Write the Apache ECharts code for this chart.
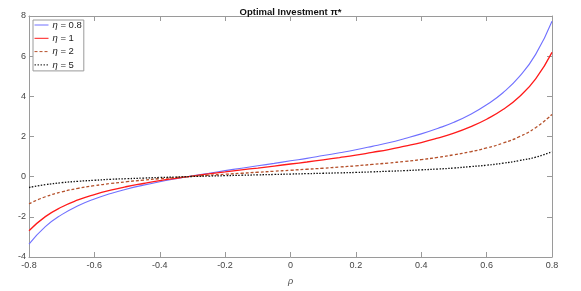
<!DOCTYPE html>
<html><head><meta charset="utf-8">
<script src="https://cdn.jsdelivr.net/npm/echarts@6/dist/echarts.min.js"></script>
<style>html,body{margin:0;padding:0;background:#fff}#c{width:581px;height:291px}</style>
</head><body><div id="c"></div>
<script>
const rho = [-0.8,-0.75,-0.7,-0.65,-0.6,-0.55,-0.5,-0.45,-0.4,-0.35,-0.3,-0.25,-0.2,-0.15,-0.1,-0.05,0,0.05,0.1,0.15,0.2,0.25,0.3,0.35,0.4,0.45,0.5,0.55,0.6,0.65,0.7,0.75,0.8];
const eta08 = [-3.36,-2.49,-1.89,-1.45,-1.11,-0.84,-0.61,-0.42,-0.25,-0.10,0.04,0.17,0.30,0.42,0.54,0.66,0.79,0.91,1.05,1.19,1.34,1.51,1.69,1.90,2.13,2.40,2.71,3.10,3.58,4.18,4.98,6.09,7.74];
const eta1 = [-2.69,-1.99,-1.51,-1.16,-0.89,-0.67,-0.49,-0.34,-0.20,-0.08,0.03,0.14,0.24,0.34,0.43,0.53,0.63,0.73,0.84,0.95,1.07,1.21,1.35,1.52,1.70,1.92,2.17,2.48,2.86,3.34,3.98,4.87,6.19];
const eta2 = [-1.35,-1.00,-0.76,-0.58,-0.45,-0.34,-0.25,-0.17,-0.10,-0.04,0.02,0.07,0.12,0.17,0.22,0.27,0.32,0.37,0.42,0.48,0.54,0.61,0.68,0.76,0.85,0.96,1.09,1.24,1.43,1.67,1.99,2.44,3.10];
const eta5 = [-0.54,-0.40,-0.30,-0.23,-0.18,-0.13,-0.10,-0.07,-0.04,-0.02,0.01,0.03,0.05,0.07,0.09,0.11,0.13,0.15,0.17,0.19,0.21,0.24,0.27,0.30,0.34,0.38,0.43,0.50,0.57,0.67,0.80,0.97,1.24];
const seriesNames = ['η = 0.8','η = 1','η = 2','η = 5'];
const xTicks = {min:-0.8, max:0.8, interval:0.2};
const yTicks = {min:-4, max:8, interval:2};
const titleText = 'Optimal Investment π*';
const xLabel = 'ρ';

const chart = echarts.init(document.getElementById('c'));
const pair = arr => rho.map((r,i)=>[r,arr[i]]);
const font = 'Liberation Sans, Helvetica, Arial, sans-serif';
const axisCol = '#9a9a9a';
const labCol = '#444';
function mkSeries(name, arr, color, type, width){
  return {name, type:'line', data:pair(arr), smooth:true, symbol:'none', showSymbol:false, xAxisIndex:0, yAxisIndex:0,
    lineStyle:{color, width, type}, itemStyle:{color}, z:3};
}
const baseAxis = {
  axisLine:{show:true, onZero:false, lineStyle:{color:axisCol, width:1}},
  axisTick:{show:true, inside:true, length:5, lineStyle:{color:axisCol}},
  splitLine:{show:false}
};
chart.setOption({
  animation:false,
  title:{text:titleText, left:'center', top:2, textStyle:{fontFamily:font, fontSize:9.5, fontWeight:'bold', color:'#111'}},
  grid:{left:29, right:29, top:16, bottom:30, containLabel:false},
  legend:{
    data:seriesNames, orient:'vertical', left:33, top:20, padding:[0,2,1,1], itemGap:3.3,
    itemWidth:14, itemHeight:10, borderColor:axisCol, borderWidth:1, backgroundColor:'#fff',
    itemStyle:{opacity:0, borderWidth:0},
    lineStyle:{width:1},
    formatter: n => n.replace('η','{i|η}'),
    textStyle:{fontFamily:font, fontSize:9.5, color:'#222', padding:[0,0,0,-1], rich:{i:{fontStyle:'italic', fontFamily:font, fontSize:9.5, color:'#222'}}}
  },
  xAxis:[
    Object.assign({type:'value', position:'bottom', min:xTicks.min, max:xTicks.max, interval:xTicks.interval,
      name:xLabel, nameLocation:'middle', nameGap:20,
      nameTextStyle:{fontFamily:font, fontSize:9, fontStyle:'italic', color:labCol},
      axisLabel:{fontFamily:font, fontSize:9, color:labCol, margin:4, formatter:v=>(Math.round(v*10)/10).toString()}}, baseAxis),
    Object.assign({type:'value', position:'top', min:xTicks.min, max:xTicks.max, interval:xTicks.interval,
      axisLabel:{show:false}}, baseAxis)
  ],
  yAxis:[
    Object.assign({type:'value', position:'left', min:yTicks.min, max:yTicks.max, interval:yTicks.interval,
      axisLabel:{fontFamily:font, fontSize:9, color:labCol, margin:3}}, baseAxis),
    Object.assign({type:'value', position:'right', min:yTicks.min, max:yTicks.max, interval:yTicks.interval,
      axisLabel:{show:false}}, baseAxis)
  ],
  series:[
    mkSeries(seriesNames[0], eta08, '#7070ff', 'solid', 1.1),
    mkSeries(seriesNames[1], eta1, '#ff1a1a', 'solid', 1.3),
    mkSeries(seriesNames[2], eta2, '#b5502a', [3,2], 1.3),
    mkSeries(seriesNames[3], eta5, '#111111', [1.5,1.5], 1.3)
  ]
});
</script></body></html>
